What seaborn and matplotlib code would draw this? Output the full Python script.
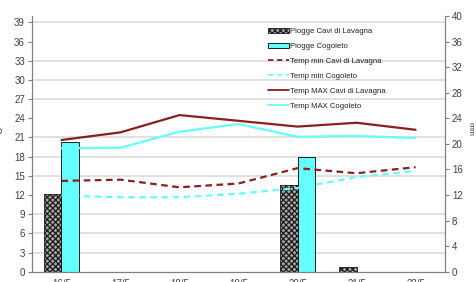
import numpy as np
import pandas as pd
import matplotlib
matplotlib.use("Agg")
import matplotlib.pyplot as plt
import seaborn as sns
from matplotlib.patches import Patch
from matplotlib.lines import Line2D

days = ["16/5", "17/5", "18/5", "19/5", "20/5", "21/5", "22/5"]
rain_cavi = [12.1, 0, 0, 0, 13.6, 0.8, 0]
rain_cogoleto = [20.3, 0, 0, 0, 17.9, 0, 0]
tmin_cavi = [14.2, 14.4, 13.2, 13.8, 16.2, 15.4, 16.35]
tmin_cogoleto = [11.9, 11.65, 11.65, 12.2, 13.1, 14.8, 15.8]
tmax_cavi = [20.6, 21.8, 24.5, 23.6, 22.7, 23.3, 22.2]
tmax_cogoleto = [19.3, 19.4, 21.9, 23.1, 21.1, 21.25, 20.9]

DARKRED = "#8b1f1f"
CYAN = "#66ffff"
GRAY = "#808080"

sns.set_style("white")
plt.rcParams["font.family"] = ["Liberation Sans", "DejaVu Sans"]
plt.rcParams["hatch.linewidth"] = 0.9

fig = plt.figure(figsize=(4.76, 2.82), dpi=100)
ax_t = fig.add_axes([0.0672, 0.0365, 0.8678, 0.9068])
ax_r = ax_t.twinx()

# rain bars on the right axis (mm)
rain = pd.DataFrame({
    "day": days * 2,
    "station": ["Cavi"] * len(days) + ["Cogoleto"] * len(days),
    "mm": rain_cavi + rain_cogoleto,
})
sns.barplot(data=rain, x="day", y="mm", hue="station", order=days,
            hue_order=["Cavi", "Cogoleto"], palette=["#9a9a9a", CYAN],
            width=0.6, gap=0, ax=ax_r, legend=False, saturation=1,
            edgecolor="black", linewidth=0.6)
for p in ax_r.containers[0]:
    p.set_hatch("xxxxxx")
    p.set_facecolor("#a8a8a8")
    p.set_edgecolor("#1a1a1a")

# temperature lines on the left axis
pos = np.arange(len(days))
series = [
    (tmin_cavi, DARKRED, (0, (3, 2))),
    (tmin_cogoleto, CYAN, (0, (3, 2))),
    (tmax_cavi, DARKRED, "-"),
    (tmax_cogoleto, CYAN, "-"),
]
for vals, col, ls in series:
    sns.lineplot(x=pos, y=vals, ax=ax_t, color=col, linestyle=ls,
                 linewidth=1.6)

# lines above the bars
ax_t.set_zorder(ax_r.get_zorder() + 1)
ax_t.patch.set_visible(False)

ax_t.set_ylim(0, 40)
ax_r.set_ylim(0, 40)
ax_t.set_xlim(-0.5, len(days) - 0.5)
ax_t.set_yticks(np.arange(0, 40, 3))
ax_r.set_yticks(np.arange(0, 41, 4))
ax_r.set_yticks(np.arange(0, 40, 3), minor=True)
ax_r.grid(True, which="minor", axis="y", color="#e0e0e0", linewidth=1.4)
ax_r.grid(False, which="major")
ax_r.set_axisbelow(True)
ax_t.grid(False)

ax_t.set_xticks(pos)
ax_t.set_xticklabels(days)
ax_t.set_xticks(np.arange(-0.5, len(days), 1), minor=True)
ax_t.tick_params(axis="x", which="major", length=0, labelsize=7,
                 labelcolor="#404040", pad=5)
ax_t.tick_params(axis="x", which="minor", length=3, color=GRAY, direction="out")
ax_t.tick_params(axis="y", length=3, color=GRAY, labelsize=7,
                 labelcolor="#404040", pad=2)
ax_r.tick_params(axis="y", which="major", length=3, color=GRAY, labelsize=7,
                 labelcolor="#404040", pad=2)
ax_r.tick_params(axis="y", which="minor", length=0)
ax_r.tick_params(axis="x", length=0, labelbottom=False)

for a in (ax_t, ax_r):
    for s in a.spines.values():
        s.set_color(GRAY)
        s.set_linewidth(0.8)
    a.spines["top"].set_visible(False)

ax_t.set_xlabel("")
ax_r.set_xlabel("")
ax_t.set_ylabel("°C", fontsize=7, color="#404040")
ax_t.yaxis.set_label_coords(-0.068, 0.55)
ax_r.set_ylabel("mm", fontsize=6, color="#404040", rotation=270)
ax_r.yaxis.set_label_coords(1.068, 0.56)

handles = [
    Patch(facecolor="#a8a8a8", edgecolor="#1a1a1a", hatch="xxxxxx", linewidth=0.6),
    Patch(facecolor=CYAN, edgecolor="black", linewidth=0.6),
    Line2D([], [], color=DARKRED, linestyle=(0, (3, 2)), linewidth=1.3),
    Line2D([], [], color=CYAN, linestyle=(0, (3, 2)), linewidth=1.3),
    Line2D([], [], color=DARKRED, linewidth=1.3),
    Line2D([], [], color=CYAN, linewidth=1.3),
]
labels = ["Piogge Cavi di Lavagna", "Piogge Cogoleto",
          "Temp min Cavi di Lavagna", "Temp min Cogoleto",
          "Temp MAX Cavi di Lavagna", "Temp MAX Cogoleto"]
ax_t.legend(handles, labels, loc="upper left", bbox_to_anchor=(0.565, 0.965),
            frameon=False, fontsize=5.6, handlelength=2.6, handleheight=0.7,
            handletextpad=0.2, labelspacing=0.95, borderaxespad=0,
            labelcolor="#222222")

fig.savefig("out.png", dpi=100)
